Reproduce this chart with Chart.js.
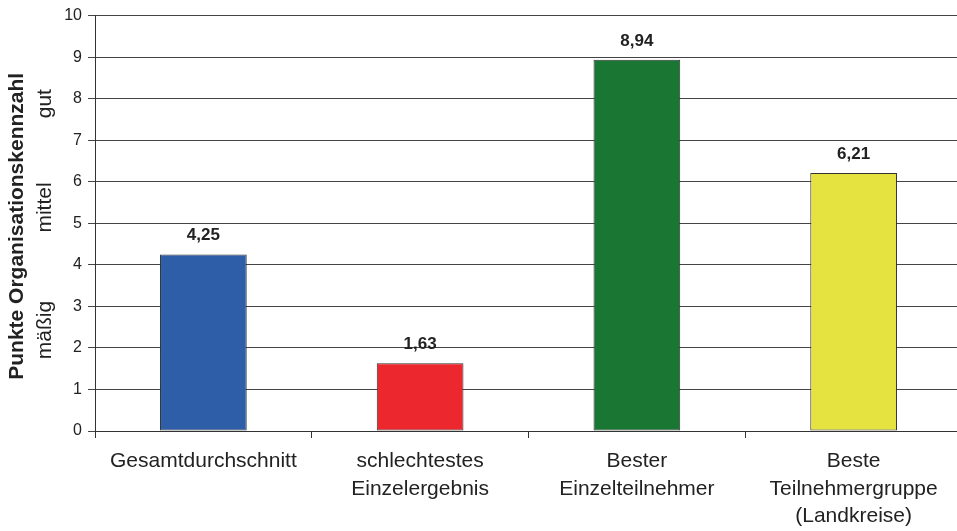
<!DOCTYPE html>
<html>
<head>
<meta charset="utf-8">
<script src="https://cdn.jsdelivr.net/npm/chart.js@4"></script>
<style>
  html, body { margin: 0; padding: 0; background: #fff; overflow: hidden; }
  #wrap { width: 963px; height: 531px; }
</style>
</head>
<body>
<div id="wrap"><canvas id="c"></canvas></div>
<script>
// ---- data -------------------------------------------------------------------
const categories = [
  'Gesamtdurchschnitt',
  ['schlechtestes', 'Einzelergebnis'],
  ['Bester', 'Einzelteilnehmer'],
  ['Beste', 'Teilnehmergruppe', '(Landkreise)'],
];
const values = [4.25, 1.63, 8.94, 6.21];
const valueLabels = ['4,25', '1,63', '8,94', '6,21'];
const barColors = ['#2F5EA9', '#EC282E', '#1A7733', '#E4E33F'];
const yTitle = 'Punkte Organisationskennzahl';
const bands = [{ text: 'gut', at: 7.88 }, { text: 'mittel', at: 5.38 }, { text: 'mäßig', at: 2.43 }];

const FONT = '"Liberation Sans", Arial, sans-serif';

// value labels over the bars
const valueLabelPlugin = {
  id: 'valueLabels',
  afterDatasetsDraw(chart) {
    const { ctx } = chart;
    const meta = chart.getDatasetMeta(0);
    ctx.save();
    ctx.font = 'bold 17px ' + FONT;
    ctx.fillStyle = '#222';
    ctx.textAlign = 'center';
    ctx.textBaseline = 'alphabetic';
    meta.data.forEach((bar, i) => ctx.fillText(valueLabels[i], bar.x, bar.y - 14));
    ctx.restore();
  },
};

// rotated axis title and the gut / mittel / mäßig markers
const sideLabelPlugin = {
  id: 'sideLabels',
  afterDraw(chart) {
    const { ctx, chartArea, scales } = chart;
    ctx.save();
    ctx.fillStyle = '#222';
    ctx.textAlign = 'center';
    ctx.textBaseline = 'middle';
    ctx.translate(17, (chartArea.top + chartArea.bottom) / 2 + 3);
    ctx.rotate(-Math.PI / 2);
    ctx.font = 'bold 21px ' + FONT;
    ctx.fillText(yTitle, 0, 0);
    ctx.restore();

    for (const b of bands) {
      ctx.save();
      ctx.fillStyle = '#222';
      ctx.textAlign = 'center';
      ctx.textBaseline = 'middle';
      ctx.translate(45, scales.y.getPixelForValue(b.at));
      ctx.rotate(-Math.PI / 2);
      ctx.font = '21px ' + FONT;
      ctx.fillText(b.text, 0, 0);
      ctx.restore();
    }
  },
};

new Chart(document.getElementById('c'), {
  type: 'bar',
  data: {
    labels: categories,
    datasets: [{
      data: values,
      backgroundColor: barColors,
      borderColor: '#333',
      borderWidth: 1,
      borderSkipped: false,
      barPercentage: 0.4,
      categoryPercentage: 1.0,
    }],
  },
  options: {
    responsive: true,
    maintainAspectRatio: false,
    animation: false,
    layout: { padding: { top: 15, right: 1, bottom: 0, left: 0 } },
    plugins: { legend: { display: false }, tooltip: { enabled: false } },
    scales: {
      x: {
        afterFit: s => { s.height = 100; },
        grid: { offset: true, drawOnChartArea: false, drawTicks: true, tickLength: 7, color: '#333' },
        border: { color: '#333', width: 1 },
        ticks: {
          color: '#222',
          padding: 10,
          maxRotation: 0,
          autoSkip: false,
          font: { family: FONT, size: 21, lineHeight: 1.3 },
        },
      },
      y: {
        min: 0,
        max: 10,
        afterFit: s => { s.width = 95; },
        grid: { color: '#444', lineWidth: 1, tickLength: 7 },
        border: { color: '#333', width: 1 },
        ticks: {
          stepSize: 1,
          color: '#222',
          padding: 6,
          font: { family: FONT, size: 16 },
        },
      },
    },
  },
  plugins: [valueLabelPlugin, sideLabelPlugin],
});
</script>
</body>
</html>
